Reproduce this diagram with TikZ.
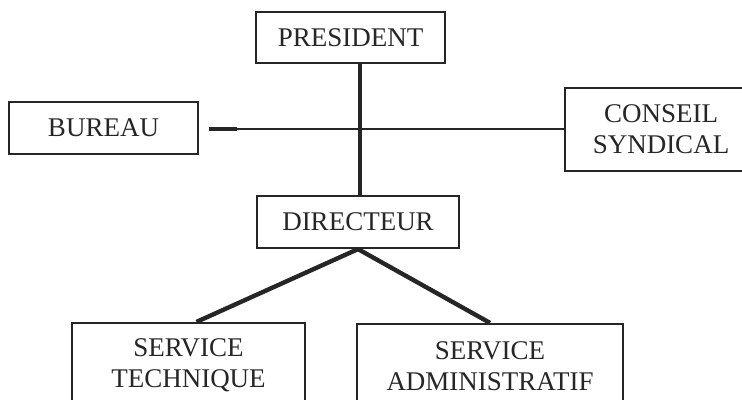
\documentclass[tikz,border=0pt]{standalone}
\usepackage{fontspec}
\setmainfont{Liberation Serif}
\usetikzlibrary{calc}

\begin{document}
\begin{tikzpicture}[x=0.5pt, y=-0.5pt,
        orgbox/.style={draw=black!85, line width=1.1pt, text=black!85, inner sep=0pt, align=center,
            font=\fontsize{13.5}{15.5}\selectfont},
        link/.style={draw=black!85, line width=2.2pt},
        thinlink/.style={draw=black!85, line width=0.9pt}]
        \useasboundingbox (0, 0) rectangle (742, 400);
        \clip (0, 0) rectangle (742, 400);

        \node (president) at (350.5, 37.5)[orgbox, minimum width=94.5pt, minimum height=25.5pt] {PRESIDENT};

        \node (bureau) at (103.5, 128)[orgbox, minimum width=94.5pt, minimum height=26pt] {BUREAU};

        \node (conseil) at (661, 129.5)[orgbox, minimum width=96pt, minimum height=41.5pt] {CONSEIL\\SYNDICAL};

        \node (directeur) at (358, 222)[orgbox, minimum width=101pt, minimum height=26pt] {DIRECTEUR};

        \node (technique) at (188.5, 365)[orgbox, minimum width=116.5pt, minimum height=42pt] {SERVICE\\TECHNIQUE};

        \node (admin) at (490, 366)[orgbox, minimum width=133pt, minimum height=42pt] {SERVICE\\ADMINISTRATIF};

        % liaison bureau - conseil
        \coordinate (stub) at ($(bureau.east) + (10, 1)$);
        \draw[thinlink] (stub) -- (stub -| conseil.west);
        \draw[thinlink, line width=1.7pt] (stub) -- ++(28, 0);

        \draw[link] ([xshift=1pt]president.south -| directeur.north) -- ([xshift=1pt]directeur.north);

        \draw[link] (directeur.south) -- ([xshift=4pt]technique.north);
        \draw[link] (directeur.south) -- (admin.north);
    \end{tikzpicture}
\end{document}
